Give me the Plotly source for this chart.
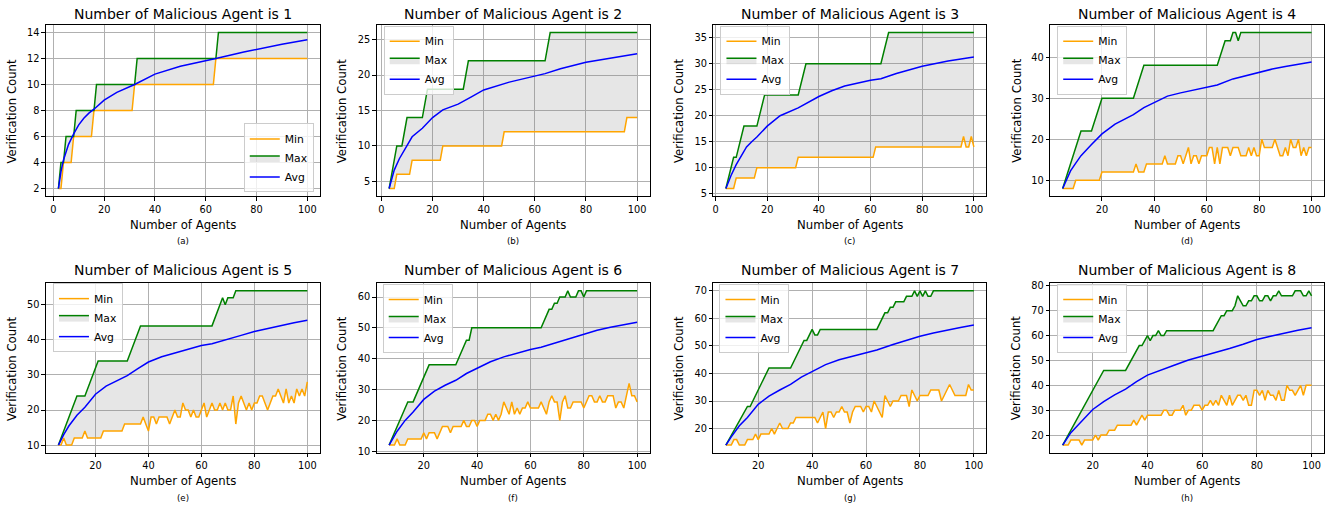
import plotly.graph_objects as go

# ---------------- data ----------------
A_MIN_X = [2, 3, 4, 7, 8, 15, 16, 31, 32, 63, 64, 100]
A_MIN_Y = [2, 2, 4, 4, 6, 6, 8, 8, 10, 10, 12, 12]
A_MAX_X = [2, 3, 4, 5, 8, 9, 16, 17, 32, 33, 64, 65, 100]
A_MAX_Y = [2, 4, 4, 6, 6, 8, 8, 10, 10, 12, 12, 14, 14]
A_AVG_X = [2, 3, 4, 5, 6, 8, 10, 12, 14, 16, 20, 25, 32, 40, 50, 64, 75, 90, 100]
A_AVG_Y = [2, 3.3, 4.2, 4.8, 5.4, 6.2, 6.9, 7.4, 7.8, 8.1, 8.8, 9.4, 10.0, 10.8, 11.4, 12.0, 12.5, 13.1, 13.45]

B_MIN_X = [3, 5, 6, 11, 12, 23, 24, 47, 48, 95, 96, 100]
B_MIN_Y = [4, 4, 6, 6, 8, 8, 10, 10, 12, 12, 14, 14]
B_MAX_X = [3, 6, 8, 10, 16, 18, 32, 34, 64, 66, 100]
B_MAX_Y = [4, 10, 10, 14, 14, 18, 18, 22, 22, 26, 26]
B_AVG_X = [3, 5, 7, 10, 12, 16, 20, 24, 30, 35, 40, 50, 60, 64, 70, 80, 90, 100]
B_AVG_Y = [4, 6.6, 8.2, 10, 11.3, 12.5, 14, 15.1, 15.9, 16.9, 17.9, 19.0, 19.9, 20.2, 20.9, 21.8, 22.4, 23.0]

C_MIN_X = [4, 7, 8, 15, 16, 31, 32, 61, 62, 95, 96, 97, 98, 99, 100]
C_MIN_Y = [6, 6, 8, 8, 10, 10, 12, 12, 14, 14, 16, 14, 14, 16, 14]
C_MAX_X = [4, 7, 8, 11, 16, 19, 32, 35, 64, 67, 100]
C_MAX_Y = [6, 12, 12, 18, 18, 24, 24, 30, 30, 36, 36]
C_AVG_X = [4, 6, 8, 10, 12, 14, 16, 20, 25, 32, 40, 45, 50, 60, 64, 70, 80, 90, 100]
C_AVG_Y = [6, 8.5, 10.6, 12.4, 14, 15, 15.9, 18, 20, 21.5, 23.7, 24.8, 25.7, 26.8, 27.1, 28.1, 29.5, 30.5, 31.3]

D_MIN_X = list(range(5, 101))
D_MIN_Y = [8, 8, 8, 8, 8,
           10, 10, 10, 10, 10, 10, 10, 10, 10, 10,
           12, 12, 12, 12, 12, 12, 12, 12, 12, 12, 12, 12, 12,
           14, 12, 12, 12,
           14, 14, 14, 14, 14, 14, 14,
           16, 14, 14, 14, 14, 16, 16, 14, 16, 18,
           14, 16, 16, 14, 16, 16, 16, 18, 18, 14,
           18, 14, 18, 18, 18, 16, 18, 18, 18, 16,
           16, 16, 18, 16, 18, 16, 16, 20, 18, 18,
           18, 18, 20, 18, 16, 16, 18, 16, 20, 18,
           18, 20, 16, 18, 16, 18, 18]
D_MAX_X = [5, 12, 16, 20, 32, 36, 64, 67, 69, 70, 71, 72, 73, 100]
D_MAX_Y = [8, 22, 22, 30, 30, 38, 38, 44, 44, 46, 46, 44, 46, 46]
D_AVG_X = [5, 8, 10, 12, 16, 20, 25, 30, 32, 36, 40, 45, 50, 55, 60, 64, 70, 75, 80, 85, 90, 95, 100]
D_AVG_Y = [8, 12.3, 14.2, 16, 18.7, 21.3, 23.7, 25.3, 26, 27.7, 29, 30.5, 31.3, 32, 32.7, 33.2, 34.7, 35.5, 36.3, 37.1, 37.7, 38.3, 38.8]

E_MIN_X = list(range(6, 101))
E_MIN_Y = [10, 10, 12, 10, 10, 10, 12, 12, 12, 12,
           14, 12, 12, 12, 12, 12, 12, 14, 14, 14,
           14, 14, 14, 14, 14, 16, 16, 16, 16, 16,
           16, 16, 18, 16, 14, 18, 18, 16, 18, 18,
           18, 18, 16, 18, 20, 18, 18, 22, 20, 20,
           18, 20, 18, 18, 20, 22, 18, 20, 22, 20,
           20, 22, 20, 22, 20, 20, 24, 16, 22, 24,
           22, 20, 22, 20, 22, 22, 24, 24, 22, 20,
           22, 24, 24, 26, 24, 22, 26, 22, 24, 22,
           26, 24, 26, 24, 28]
E_MAX_X = [6, 13, 16, 21, 32, 37, 64, 68, 69, 70, 72, 73, 100]
E_MAX_Y = [10, 24, 24, 34, 34, 44, 44, 52, 50, 52, 52, 54, 54]
E_AVG_X = [6, 8, 10, 13, 16, 20, 24, 28, 32, 36, 40, 45, 50, 55, 60, 64, 70, 75, 80, 85, 90, 95, 100]
E_AVG_Y = [10, 13, 15.5, 18.5, 20.8, 24.5, 26.8, 28.4, 29.8, 31.8, 33.7, 35.2, 36.3, 37.3, 38.4, 38.9, 40.3, 41.3, 42.4, 43.3, 44.1, 44.9, 45.6]

F_MIN_X = list(range(7, 101))
F_MIN_Y = [12, 12, 12, 14, 12, 12, 12, 14, 14, 14,
           14, 14, 14, 16, 14, 16, 16, 16, 14, 16,
           18, 18, 18, 16, 18, 18, 18, 18, 20, 18,
           18, 20, 20, 18, 20, 20, 20, 22, 22, 20,
           22, 20, 22, 26, 24, 22, 26, 22, 24, 22,
           24, 24, 26, 24, 24, 24, 24, 26, 24, 22,
           26, 28, 26, 26, 20, 26, 28, 24, 24, 26,
           26, 26, 26, 24, 26, 28, 28, 26, 26, 28,
           26, 26, 28, 28, 28, 24, 26, 26, 24, 28,
           32, 28, 28, 26]
F_MAX_X = [7, 14, 16, 22, 32, 36, 37, 38, 64, 67, 68, 69, 70, 71, 73, 74, 75, 77, 78, 79, 80, 81, 100]
F_MAX_Y = [12, 26, 26, 38, 38, 46, 46, 50, 50, 56, 56, 58, 58, 60, 60, 62, 60, 60, 62, 62, 60, 62, 62]
F_AVG_X = [7, 10, 13, 16, 20, 24, 28, 32, 36, 40, 45, 50, 55, 60, 64, 70, 75, 80, 85, 90, 95, 100]
F_AVG_Y = [12, 16.5, 20, 22.7, 26.8, 29.5, 31.4, 33, 35.2, 37, 39, 40.6, 41.8, 43, 43.7, 45.3, 46.7, 48, 49.2, 50.2, 51.1, 51.8]

G_MIN_X = list(range(8, 101))
G_MIN_Y = [14, 14, 14, 16, 16, 14, 14, 14, 16, 16,
           16, 18, 16, 18, 18, 18, 18, 20, 18, 20,
           22, 20, 20, 20, 22, 22, 24, 24, 24, 24,
           24, 24, 24, 24, 22, 24, 26, 20, 26, 26,
           24, 26, 26, 28, 26, 26, 22, 26, 28, 28,
           28, 26, 28, 28, 26, 30, 28, 26, 24, 32,
           30, 28, 30, 30, 30, 32, 32, 32, 28, 34,
           32, 30, 32, 32, 32, 32, 34, 34, 34, 34,
           30, 32, 34, 36, 34, 32, 32, 32, 32, 32,
           36, 34, 34]
G_MAX_X = [8, 16, 17, 24, 32, 37, 38, 39, 40, 41, 42, 43, 64, 67, 68, 69, 70, 71, 74, 75, 77, 78, 79, 80, 81, 82, 83, 84, 85, 100]
G_MAX_Y = [14, 28, 28, 42, 42, 52, 52, 54, 56, 54, 54, 56, 56, 62, 62, 64, 64, 66, 66, 68, 68, 70, 68, 70, 68, 70, 68, 68, 70, 70]
G_AVG_X = [8, 10, 13, 16, 20, 24, 28, 32, 36, 40, 45, 50, 55, 60, 64, 70, 75, 80, 85, 90, 95, 100]
G_AVG_Y = [14, 17, 21, 24, 28.8, 31.8, 34, 36, 38.7, 40.8, 43.2, 45, 46.3, 47.6, 48.5, 50.5, 52, 53.5, 54.7, 55.8, 56.7, 57.6]

H_MIN_X = list(range(9, 101))
H_MIN_Y = [16, 16, 16, 18, 18, 18, 18, 16, 18, 18,
           18, 18, 20, 18, 20, 20, 20, 22, 22, 22,
           24, 24, 24, 24, 24, 24, 26, 24, 26, 28,
           26, 28, 28, 28, 28, 28, 28, 30, 30, 28,
           28, 30, 30, 30, 32, 28, 30, 30, 32, 32,
           32, 30, 32, 32, 34, 32, 34, 32, 36, 34,
           32, 36, 32, 34, 36, 36, 34, 36, 32, 32,
           38, 38, 36, 38, 34, 38, 36, 36, 34, 38,
           34, 34, 40, 38, 38, 36, 38, 40, 36, 40,
           40, 40]
H_MAX_X = [9, 24, 32, 37, 38, 39, 40, 41, 42, 43, 44, 45, 46, 47, 64, 67, 68, 69, 71, 72, 73, 74,
           75, 76, 77, 78, 79, 80, 81, 82, 83, 84, 85, 86, 87, 88, 89, 93, 94, 96, 97, 98, 99, 100]
H_MAX_Y = [16, 46, 46, 56, 56, 58, 60, 58, 60, 60, 62, 60, 60, 62, 62, 68, 68, 70, 70, 72, 76, 74,
           72, 72, 74, 74, 76, 76, 74, 74, 76, 76, 74, 76, 76, 78, 76, 76, 78, 78, 76, 76, 78, 76]
H_AVG_X = [9, 12, 15, 20, 24, 28, 32, 36, 40, 45, 50, 55, 60, 64, 70, 75, 80, 85, 90, 95, 100]
H_AVG_Y = [16, 21, 24.5, 30.3, 33.5, 36.2, 38.5, 41.5, 44.1, 46.3, 48.2, 50.2, 51.7, 52.8, 54.8, 56.5, 58.4, 59.7, 61, 62.2, 63.2]

MALICIOUS = [1, 2, 3, 4, 5, 6, 7, 8]
CAPTIONS = ["(a)", "(b)", "(c)", "(d)", "(e)", "(f)", "(g)", "(h)"]
SERIES_NAMES = ["Min", "Max", "Avg"]

PANEL_DATA = [
    (A_MIN_X, A_MIN_Y, A_MAX_X, A_MAX_Y, A_AVG_X, A_AVG_Y),
    (B_MIN_X, B_MIN_Y, B_MAX_X, B_MAX_Y, B_AVG_X, B_AVG_Y),
    (C_MIN_X, C_MIN_Y, C_MAX_X, C_MAX_Y, C_AVG_X, C_AVG_Y),
    (D_MIN_X, D_MIN_Y, D_MAX_X, D_MAX_Y, D_AVG_X, D_AVG_Y),
    (E_MIN_X, E_MIN_Y, E_MAX_X, E_MAX_Y, E_AVG_X, E_AVG_Y),
    (F_MIN_X, F_MIN_Y, F_MAX_X, F_MAX_Y, F_AVG_X, F_AVG_Y),
    (G_MIN_X, G_MIN_Y, G_MAX_X, G_MAX_Y, G_AVG_X, G_AVG_Y),
    (H_MIN_X, H_MIN_Y, H_MAX_X, H_MAX_Y, H_AVG_X, H_AVG_Y),
]

# ---------------- layout / style ----------------
W, H = 1342, 513
FONT = "DejaVu Sans"
COLORS = ["#FFA500", "#008000", "#0000FF"]
FILL = "rgba(128,128,128,0.2)"
GRID = "#b0b0b0"

COL_PX = [(45, 319), (376, 649), (713, 986), (1050, 1324)]
ROW_PX = [(22, 196), (284, 456)]
YLABEL_X_PX = [11, 341, 678, 1016]
TITLE_Y_PX = [11, 271]
XLABEL_Y_PX = [225, 485]
CAPTION_Y_PX = [241, 502]
YTICK_STEP = [2, 5, 5, 10, 10, 10, 10, 10]
LEGEND_POS_PX = [(313, 192, "right", "bottom"), (383, 23, "left", "top"), (720, 23, "left", "top"),
                 (1057, 23, "left", "top"), (52, 284, "left", "top"), (382, 285, "left", "top"),
                 (719, 285, "left", "top"), (1057, 285, "left", "top")]


def px_x(p):
    return p / W


def px_y(p):
    return 1 - p / H


def padded(lo, hi):
    span = hi - lo
    return [lo - 0.05 * span, hi + 0.05 * span]


fig = go.Figure()
layout = dict(
    width=W, height=H,
    margin=dict(l=0, r=0, t=0, b=0),
    paper_bgcolor="white", plot_bgcolor="white",
    font=dict(family=FONT, size=10, color="black"),
    showlegend=True,
)
annotations = []

for i, data in enumerate(PANEL_DATA):
    n = i + 1
    row, col = divmod(i, 4)
    xs = "x" if n == 1 else f"x{n}"
    ys = "y" if n == 1 else f"y{n}"
    leg = "legend" if n == 1 else f"legend{n}"
    mnx, mny, mxx, mxy, avx, avy = data

    fig.add_trace(go.Scatter(x=mnx, y=mny, mode="lines", name=SERIES_NAMES[0],
                             line=dict(color=COLORS[0], width=1.5), xaxis=xs, yaxis=ys, legend=leg))
    fig.add_trace(go.Scatter(x=mxx, y=mxy, mode="lines", name=SERIES_NAMES[1],
                             line=dict(color=COLORS[1], width=1.5), fill="tonexty", fillcolor=FILL,
                             xaxis=xs, yaxis=ys, legend=leg))
    fig.add_trace(go.Scatter(x=avx, y=avy, mode="lines", name=SERIES_NAMES[2],
                             line=dict(color=COLORS[2], width=1.5), xaxis=xs, yaxis=ys, legend=leg))

    allx = list(mnx) + list(mxx) + list(avx)
    ally = list(mny) + list(mxy) + list(avy)
    c0, c1 = COL_PX[col]
    r0, r1 = ROW_PX[row]
    axis_common = dict(showgrid=True, gridcolor=GRID, gridwidth=0.8, showline=True, mirror=True,
                       linecolor="black", linewidth=1, ticks="outside", ticklen=3.5, tickwidth=0.8,
                       tickcolor="black", zeroline=False, tickfont=dict(size=9.8, family=FONT))
    layout["xaxis" if n == 1 else f"xaxis{n}"] = dict(
        domain=[px_x(c0), px_x(c1)], anchor=ys, range=padded(min(allx), max(allx)),
        tick0=0, dtick=20, **axis_common)
    layout["yaxis" if n == 1 else f"yaxis{n}"] = dict(
        domain=[px_y(r1), px_y(r0)], anchor=xs, range=padded(min(ally), max(ally)),
        tick0=0, dtick=YTICK_STEP[i], **axis_common)

    lx, ly, xa, ya = LEGEND_POS_PX[i]
    layout[leg] = dict(x=px_x(lx), y=px_y(ly), xanchor=xa, yanchor=ya, xref="paper", yref="paper",
                       bgcolor="rgba(255,255,255,0.8)", bordercolor="#cccccc", borderwidth=1,
                       font=dict(size=10.8, family=FONT), tracegroupgap=0, itemwidth=30,
                       traceorder="normal")

    cx = px_x((c0 + c1) / 2)
    annotations.append(dict(text=f"Number of Malicious Agent is {MALICIOUS[i]}", x=cx, y=px_y(TITLE_Y_PX[row]),
                            xref="paper", yref="paper", showarrow=False, xanchor="center", yanchor="middle",
                            font=dict(size=14, family=FONT)))
    annotations.append(dict(text="Number of Agents", x=cx, y=px_y(XLABEL_Y_PX[row]),
                            xref="paper", yref="paper", showarrow=False, xanchor="center", yanchor="middle",
                            font=dict(size=11.7, family=FONT)))
    annotations.append(dict(text=CAPTIONS[i], x=cx, y=px_y(CAPTION_Y_PX[row]),
                            xref="paper", yref="paper", showarrow=False, xanchor="center", yanchor="middle",
                            font=dict(size=8.6, family=FONT)))
    annotations.append(dict(text="Verification Count", x=px_x(YLABEL_X_PX[col]), y=px_y((r0 + r1) / 2),
                            xref="paper", yref="paper", showarrow=False, xanchor="center", yanchor="middle",
                            textangle=-90, font=dict(size=11.7, family=FONT)))

layout["annotations"] = annotations
fig.update_layout(**layout)
fig.write_html("out.html", config={"displayModeBar": False},
               post_script="document.body.style.margin='0';document.body.style.padding='0';")
